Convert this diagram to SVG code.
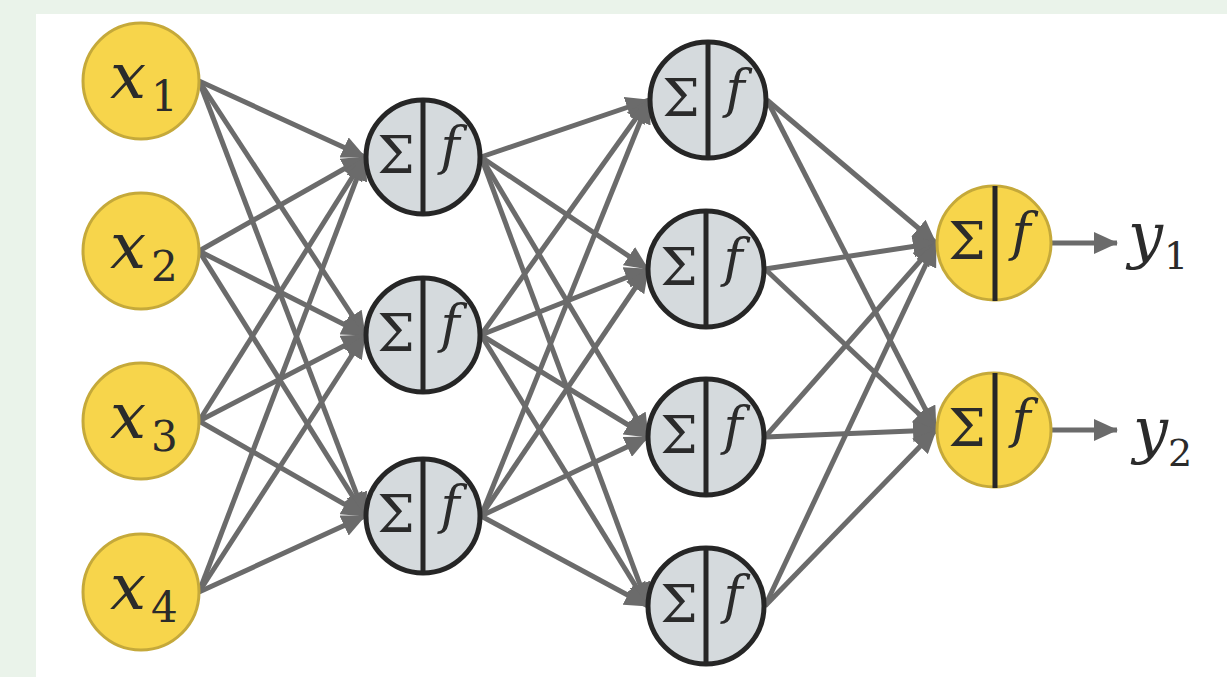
<svg xmlns="http://www.w3.org/2000/svg" width="1227" height="677" viewBox="0 0 1227 677">
<defs>
<marker id="ah" markerUnits="userSpaceOnUse" markerWidth="24" markerHeight="22" refX="23" refY="11" orient="auto">
<path d="M0,0 L24,11 L0,22 z" fill="#6b6b6b"/>
</marker>
<style>
.e{stroke:#6b6b6b;stroke-width:5;fill:none;marker-end:url(#ah)}
.in{fill:#f7d54b;stroke:#c5a93a;stroke-width:3}
.hid{fill:#d5dadd;stroke:#262626;stroke-width:5}
.out{fill:#f7d54b;stroke:#c5a93a;stroke-width:3}
.div{stroke:#262626;stroke-width:5}
text{fill:#2b2b2b;font-family:'DejaVu Serif',serif}
.sig{font-size:53px;text-anchor:middle}
.f{font-style:italic;font-size:52px;text-anchor:middle}
.v{font-style:italic;font-size:64px}
.s{font-size:42px}
.yv{font-style:italic;font-size:62px}
.ys{font-size:38px}
</style>
</defs>
<rect x="0" y="0" width="1227" height="677" fill="#eaf3ea"/>
<rect x="36" y="14" width="1191" height="663" fill="#ffffff"/>
<g id="connectors">
<line class="e" x1="199" y1="81" x2="365" y2="157"/>
<line class="e" x1="199" y1="81" x2="365" y2="335"/>
<line class="e" x1="199" y1="81" x2="365" y2="516"/>
<line class="e" x1="199" y1="251" x2="365" y2="157"/>
<line class="e" x1="199" y1="251" x2="365" y2="335"/>
<line class="e" x1="199" y1="251" x2="365" y2="516"/>
<line class="e" x1="199" y1="421" x2="365" y2="157"/>
<line class="e" x1="199" y1="421" x2="365" y2="335"/>
<line class="e" x1="199" y1="421" x2="365" y2="516"/>
<line class="e" x1="199" y1="592" x2="365" y2="157"/>
<line class="e" x1="199" y1="592" x2="365" y2="335"/>
<line class="e" x1="199" y1="592" x2="365" y2="516"/>
<line class="e" x1="481" y1="157" x2="649" y2="100"/>
<line class="e" x1="481" y1="157" x2="648" y2="269"/>
<line class="e" x1="481" y1="157" x2="648" y2="437"/>
<line class="e" x1="481" y1="157" x2="648" y2="606"/>
<line class="e" x1="481" y1="335" x2="649" y2="100"/>
<line class="e" x1="481" y1="335" x2="648" y2="269"/>
<line class="e" x1="481" y1="335" x2="648" y2="437"/>
<line class="e" x1="481" y1="335" x2="648" y2="606"/>
<line class="e" x1="481" y1="516" x2="649" y2="100"/>
<line class="e" x1="481" y1="516" x2="648" y2="269"/>
<line class="e" x1="481" y1="516" x2="648" y2="437"/>
<line class="e" x1="481" y1="516" x2="648" y2="606"/>
<line class="e" x1="767" y1="100" x2="936" y2="243"/>
<line class="e" x1="767" y1="100" x2="936" y2="430"/>
<line class="e" x1="765" y1="269" x2="936" y2="243"/>
<line class="e" x1="765" y1="269" x2="936" y2="430"/>
<line class="e" x1="765" y1="437" x2="936" y2="243"/>
<line class="e" x1="765" y1="437" x2="936" y2="430"/>
<line class="e" x1="765" y1="606" x2="936" y2="243"/>
<line class="e" x1="765" y1="606" x2="936" y2="430"/>
<line class="e" x1="1052" y1="243" x2="1117" y2="243"/>
<line class="e" x1="1052" y1="430" x2="1117" y2="430"/>
</g>
<g id="x1"><circle class="in" cx="141" cy="81" r="58"/><text class="v" x="110" y="98">x</text><text class="s" x="151" y="111">1</text></g>
<g id="x2"><circle class="in" cx="141" cy="251" r="58"/><text class="v" x="110" y="268">x</text><text class="s" x="151" y="281">2</text></g>
<g id="x3"><circle class="in" cx="141" cy="421" r="58"/><text class="v" x="110" y="438">x</text><text class="s" x="151" y="451">3</text></g>
<g id="x4"><circle class="in" cx="141" cy="592" r="58"/><text class="v" x="110" y="609">x</text><text class="s" x="151" y="622">4</text></g>
<g id="h1a"><circle class="hid" cx="423" cy="157" r="57"/><line class="div" x1="423" y1="100" x2="423" y2="214"/><text class="sig" x="396" y="173">Σ</text><text class="f" x="450" y="164">f</text></g>
<g id="h1b"><circle class="hid" cx="423" cy="335" r="57"/><line class="div" x1="423" y1="278" x2="423" y2="392"/><text class="sig" x="396" y="351">Σ</text><text class="f" x="450" y="342">f</text></g>
<g id="h1c"><circle class="hid" cx="423" cy="516" r="57"/><line class="div" x1="423" y1="459" x2="423" y2="573"/><text class="sig" x="396" y="532">Σ</text><text class="f" x="450" y="523">f</text></g>
<g id="h2a"><circle class="hid" cx="708" cy="100" r="58"/><line class="div" x1="708" y1="42" x2="708" y2="158"/><text class="sig" x="681" y="116">Σ</text><text class="f" x="735" y="107">f</text></g>
<g id="h2b"><circle class="hid" cx="706" cy="269" r="58"/><line class="div" x1="706" y1="211" x2="706" y2="327"/><text class="sig" x="679" y="285">Σ</text><text class="f" x="733" y="276">f</text></g>
<g id="h2c"><circle class="hid" cx="706" cy="437" r="58"/><line class="div" x1="706" y1="379" x2="706" y2="495"/><text class="sig" x="679" y="453">Σ</text><text class="f" x="733" y="444">f</text></g>
<g id="h2d"><circle class="hid" cx="706" cy="606" r="58"/><line class="div" x1="706" y1="548" x2="706" y2="664"/><text class="sig" x="679" y="622">Σ</text><text class="f" x="733" y="613">f</text></g>
<g id="o1"><circle class="out" cx="994" cy="243" r="57"/><line class="div" x1="995" y1="186" x2="995" y2="301"/><text class="sig" x="967" y="259">Σ</text><text class="f" x="1021" y="250">f</text></g>
<g id="o2"><circle class="out" cx="994" cy="430" r="57"/><line class="div" x1="995" y1="373" x2="995" y2="488"/><text class="sig" x="967" y="446">Σ</text><text class="f" x="1021" y="437">f</text></g>
<g id="y1"><text class="yv" x="1128" y="256">y</text><text class="ys" x="1164" y="269">1</text></g>
<g id="y2"><text class="yv" x="1133" y="451">y</text><text class="ys" x="1168" y="466">2</text></g>
</svg>
